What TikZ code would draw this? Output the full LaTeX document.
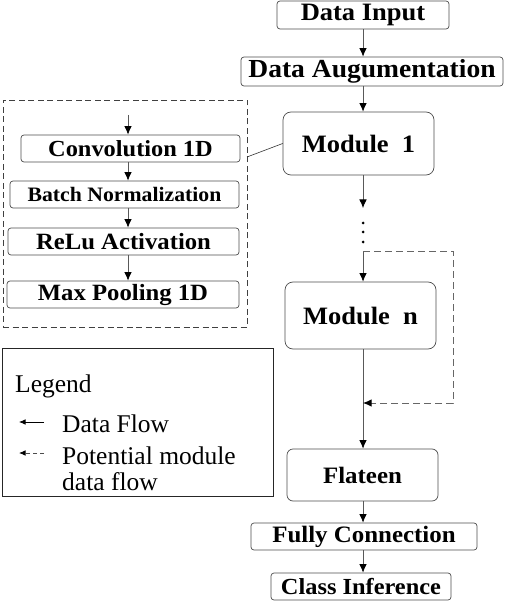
\documentclass[tikz,border=0pt]{standalone}
\usepackage{fontspec}
\setmainfont{Liberation Serif}
\usepackage{graphicx}
\usetikzlibrary{arrows.meta}
\newcommand\fsz[1]{\fontsize{#1}{#1}\selectfont}
\newcommand\wx[1]{\scalebox{1.06}[1]{#1}}
\begin{document}
\begin{tikzpicture}[x=1pt,y=-1pt,
  box/.style={draw=black!70, rounded corners=3pt, line width=0.7pt, inner sep=0pt, font=\bfseries},
  bigbox/.style={box, rounded corners=8pt},
  flow/.style={draw=black!65, line width=0.8pt, -{Latex[length=8.5pt,width=7.5pt,color=black]}},
  dflow/.style={draw=black!60, line width=0.9pt, dash pattern=on 7pt off 4pt, -{Latex[length=8.5pt,width=7.5pt,color=black]}},
  legtext/.style={anchor=base west, inner sep=0pt, font=\fsz{25.5}},
]
\useasboundingbox (0,0) rectangle (504,601);

% main column
\node[box, minimum width=172pt, minimum height=28pt] (in) at (363,15) {\fsz{25}\wx{Data Input}};
\node[box, minimum width=262pt, minimum height=29pt] (aug) at (372,71.5) {\fsz{26}\wx{Data Augumentation}};
\node[bigbox, minimum width=151pt, minimum height=63pt] (m1) at (358.5,143.5) {\fsz{25}\wx{Module\ \ 1}};
\node[bigbox, minimum width=151pt, minimum height=67pt] (mn) at (360.5,315.5) {\fsz{25}\wx{Module\ \ n}};
\node[box, rounded corners=6pt, minimum width=151pt, minimum height=52pt] (fl) at (362.5,475) {\fsz{23.5}\wx{Flateen}};
\node[box, minimum width=226pt, minimum height=27pt] (fc) at (364,536.5) {\fsz{23.5}\wx{Fully Connection}};
\node[box, minimum width=180pt, minimum height=27pt] (ci) at (361,586.5) {\fsz{23}\wx{Class Inference}};

\coordinate (split) at (363,251);
\coordinate (dend) at (363,208);
\coordinate (join) at (363,403);
\coordinate (r1) at (453,251);
\coordinate (r2) at (453,403);

\draw[flow] (in.south -| split) -- (aug.north -| split);
\draw[flow] (aug.south -| split) -- (m1.north -| split);
\draw[flow] (m1.south -| split) -- (dend);
\foreach \yy in {223,232,242} \fill (363,\yy) circle (1.5pt);
\draw[flow] (split) -- (mn.north -| split);
\draw[flow] (mn.south -| split) -- (fl.north -| split);
\draw[dflow] (split) -- (r1) -- (r2) -- (join);
\draw[flow] (fl.south -| split) -- (fc.north -| split);
\draw[flow] (fc.south -| split) -- (ci.north -| split);

% module detail
\node[draw=black!75, line width=0.8pt, dash pattern=on 6pt off 3.5pt, minimum width=244pt, minimum height=227pt, inner sep=0pt] (detail) at (125,213.5) {};
\node[box, minimum width=219pt, minimum height=27pt] (conv) at (130.5,148.5) {\fsz{23}\wx{Convolution 1D}};
\node[box, minimum width=229pt, minimum height=27pt] (bn) at (124.5,194.5) {\fsz{20.5}\wx{Batch Normalization}};
\node[box, minimum width=231pt, minimum height=27pt] (relu) at (123.5,241.5) {\fsz{23.3}\wx{ReLu Activation}};
\node[box, minimum width=232pt, minimum height=27pt] (mp) at (123,294.5) {\fsz{23.3}\wx{Max Pooling 1D}};
\coordinate (ax) at (128,115);
\draw[flow] (ax) -- (conv.north -| ax);
\draw[flow] (conv.south -| ax) -- (bn.north -| ax);
\draw[flow] (bn.south -| ax) -- (relu.north -| ax);
\draw[flow] (relu.south -| ax) -- (mp.north -| ax);
\coordinate (c1) at (247,157);
\draw[draw=black!80, line width=0.6pt] (m1.west) -- (c1);

% legend
\node[draw=black!85, line width=0.8pt, minimum width=271pt, minimum height=148pt, inner sep=0pt] (leg) at (137.5,422) {};
\node[legtext] (lt) at (15,392) {Legend};
\node[legtext] (lf) at (62,432) {Data Flow};
\node[legtext] (lp) at (62,464) {Potential module};
\node[legtext] (ld) at (62,490) {data flow};
\coordinate (la1) at (44,422);
\coordinate (la2) at (19,422);
\coordinate (lb1) at (44,453);
\coordinate (lb2) at (19,453);
\draw[draw=black, line width=0.8pt, -{Latex[length=6.5pt,width=5.5pt]}] (la1) -- (la2);
\draw[draw=black!70, line width=0.8pt, dash pattern=on 4pt off 3pt, -{Latex[length=6.5pt,width=5.5pt,color=black]}] (lb1) -- (lb2);
\end{tikzpicture}
\end{document}
